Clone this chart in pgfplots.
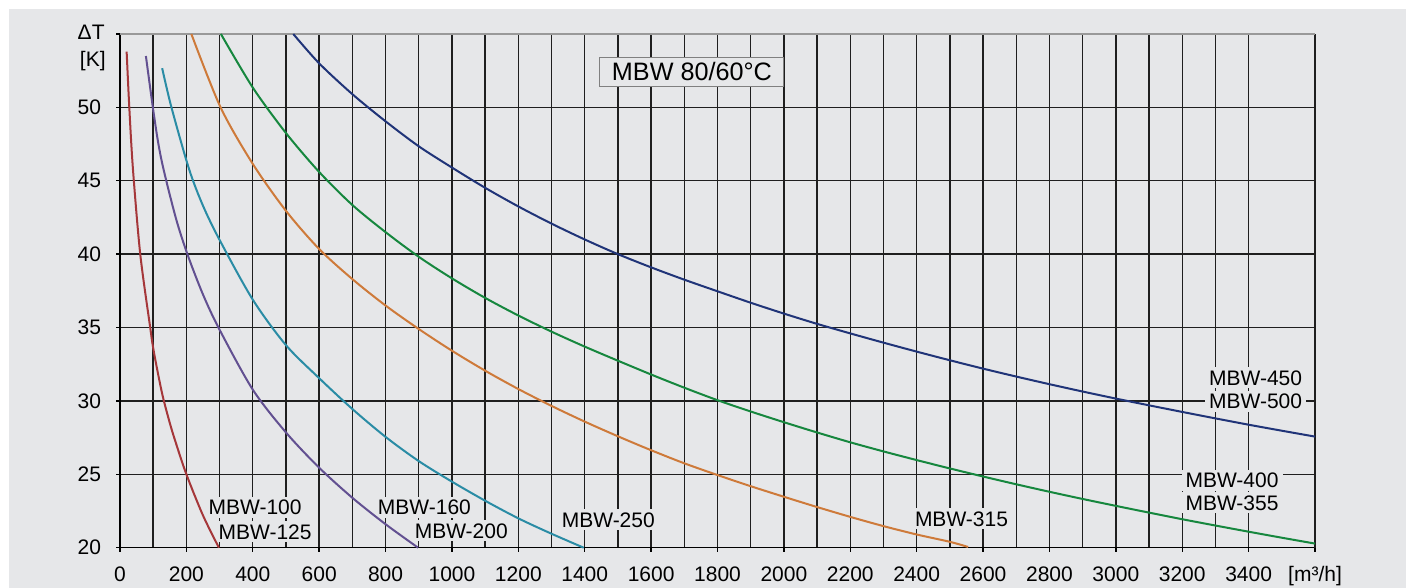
\documentclass[border=0pt]{standalone}
\usepackage{pgfplots}
\pgfplotsset{compat=1.18}
\usepackage{fontspec}
\setmainfont{Liberation Sans}
\definecolor{bg}{RGB}{230,231,233}
\definecolor{cred}{RGB}{165,55,58}
\definecolor{cpurple}{RGB}{98,80,145}
\definecolor{cteal}{RGB}{42,140,165}
\definecolor{corange}{RGB}{206,122,58}
\definecolor{cgreen}{RGB}{22,135,62}
\definecolor{cnavy}{RGB}{32,52,120}
\newcommand{\tf}{\fontsize{10.5}{12}\selectfont}
\begin{document}
\begin{tikzpicture}
\path[use as bounding box] (-60pt,-20.15pt) rectangle (643pt,273.85pt);
\fill[white] (-60pt,-20.15pt) rectangle (643pt,273.85pt);
\fill[bg] (-55.5pt,-20.15pt) rectangle (643pt,269.35pt);
\begin{axis}[
  at={(0pt,0pt)}, anchor=south west,
  scale only axis, width=597.5pt, height=256.85pt,
  xmin=0, xmax=3600, ymin=20, ymax=55,
  clip=false,
  axis x line*=bottom, axis y line*=left,
  axis line style={-, black, line width=0.8pt},
  xtick={0,200,...,3400},
  minor x tick num=1,
  ytick={20,25,...,50},
  extra x ticks={3600}, extra x tick labels={[m³/h]},
  extra x tick style={grid=major},
  extra y ticks={55}, extra y tick labels={},
  extra y tick style={grid=major, major grid style={gray!80, line width=0.6pt}},
  grid=both,
  major grid style={black!88, line width=0.7pt},
  minor grid style={black!88, line width=0.7pt},
  tick align=outside,
  major tick length=2pt, minor tick length=0pt,
  tick style={black, line width=0.7pt},
  tick label style={font=\tf},
  xticklabel style={yshift=-4pt},
  yticklabel style={xshift=-4pt},
  /pgf/number format/.cd, 1000 sep={}, assume math mode=true,
]
\tikzset{lbl/.style={fill=bg, inner xsep=2pt, inner ysep=1.5pt, font=\tf, text height=7.5pt, text depth=0pt}}
\node[anchor=east, font=\tf, inner sep=0pt] at (axis cs:0,55.1) [xshift=-7.5pt] {ΔT};
\node[anchor=east, font=\tf, inner sep=0pt] at (axis cs:0,53.17) [xshift=-7pt] {[K]};
\node[draw=gray, line width=0.5pt, fill=bg, font=\fontsize{12.6}{14}\selectfont, text height=9pt, text depth=0pt, inner xsep=6pt, inner ysep=2.75pt] at (axis cs:1723,52.43) {MBW 80/60°C};
\node[lbl] at (axis cs:407,22.74) {MBW-100};
\node[lbl] at (axis cs:437,21.1) {MBW-125};
\node[lbl] at (axis cs:917,22.77) {MBW-160};
\node[lbl] at (axis cs:1028,21.17) {MBW-200};
\node[lbl] at (axis cs:1471,21.92) {MBW-250};
\node[lbl] at (axis cs:2535,21.96) {MBW-315};
\node[lbl] at (axis cs:3421,31.57) {MBW-450};
\node[lbl] at (axis cs:3421,29.97) {MBW-500};
\node[lbl] at (axis cs:3350,24.6) {MBW-400};
\node[lbl] at (axis cs:3350,23.05) {MBW-355};
% MBW-100 / MBW-125
\addplot[cred, line width=1pt, smooth] coordinates {
(20,53.8) (28,50.0) (39,45.8) (61,40.0) (91,35.0) (100,33.6) (115,31.8) (130,30.2) (150,28.5) (166,27.3) (200,25.0) (250,22.2) (298,20.0)};
% MBW-160 / MBW-200
\addplot[cpurple, line width=1pt, smooth] coordinates {
(78,53.5) (99,50.0) (115,47.6) (132,45.7) (169,42.4) (203,40.0) (250,37.25) (300,34.85) (400,30.77) (500,27.85) (600,25.45) (700,23.4) (800,21.6) (898,20.0)};
% MBW-250
\addplot[cteal, line width=1pt, smooth] coordinates {
(127,52.67) (155,50.0) (208,45.8) (250,43.3) (300,40.97) (400,36.9) (500,33.8) (600,31.55) (700,29.45) (800,27.55) (900,25.9) (1000,24.5) (1100,23.2) (1200,22.0) (1300,20.95) (1397,20.0)};
% MBW-315
\addplot[corange, line width=1pt, smooth] coordinates {
(215,55.0) (303,50.0) (400,46.15) (500,42.95) (600,40.35) (700,38.3) (800,36.5) (900,34.9) (1000,33.42) (1100,32.06) (1200,30.81) (1300,29.66) (1400,28.59) (1500,27.59) (1600,26.64) (1700,25.75) (1800,24.95) (1900,24.19) (2000,23.47) (2100,22.77) (2200,22.1) (2300,21.47) (2400,20.9) (2500,20.4) (2555,20.05)};
% MBW-400 / MBW-355
\addplot[cgreen, line width=1pt, smooth] coordinates {
(304,55.0) (400,51.35) (500,48.25) (600,45.6) (700,43.35) (800,41.5) (900,39.82) (1000,38.35) (1100,37.02) (1200,35.82) (1300,34.72) (1400,33.7) (1500,32.74) (1600,31.8) (1700,30.9) (1800,30.05) (1900,29.28) (2000,28.55) (2100,27.85) (2200,27.18) (2300,26.56) (2400,25.97) (2500,25.4) (2600,24.85) (2700,24.32) (2800,23.81) (2900,23.32) (3000,22.85) (3100,22.39) (3200,21.94) (3300,21.51) (3400,21.09) (3500,20.68) (3600,20.28)};
% MBW-450 / MBW-500
\addplot[cnavy, line width=1pt, smooth] coordinates {
(522,55.0) (600,53.0) (700,50.9) (800,49.05) (900,47.35) (1000,45.9) (1100,44.52) (1200,43.25) (1300,42.08) (1400,41.0) (1500,40.0) (1600,39.1) (1700,38.26) (1800,37.47) (1900,36.69) (2000,35.95) (2100,35.25) (2200,34.6) (2300,33.97) (2400,33.36) (2500,32.77) (2600,32.2) (2700,31.66) (2800,31.14) (2900,30.64) (3000,30.16) (3100,29.7) (3200,29.25) (3300,28.81) (3400,28.38) (3500,27.97) (3600,27.57)};
\end{axis}
\end{tikzpicture}
\end{document}
